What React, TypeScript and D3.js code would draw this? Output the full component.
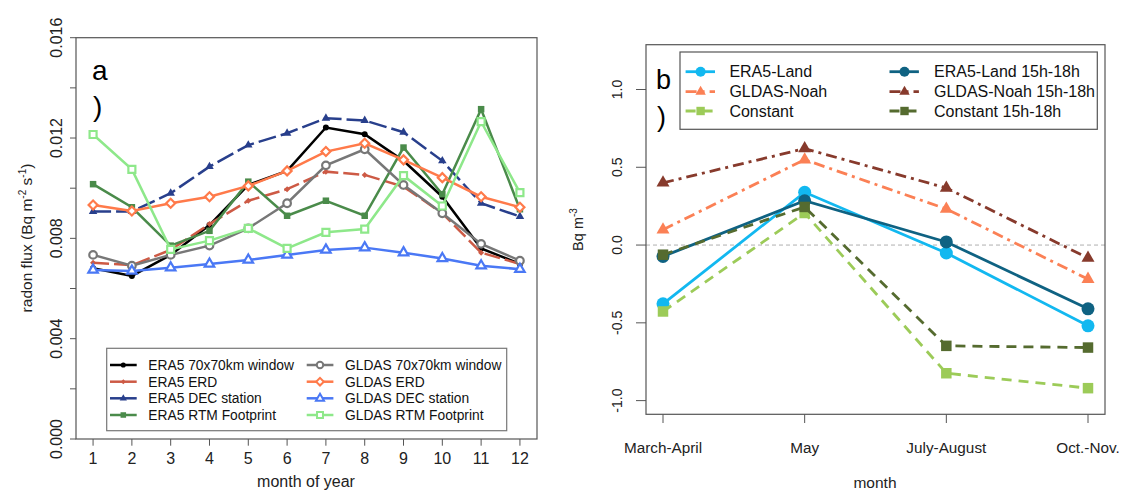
import * as d3 from 'd3';

const FONT = "'Liberation Sans', Arial, Helvetica, sans-serif";

// ---- panel a : monthly radon flux ----
const months = [1, 2, 3, 4, 5, 6, 7, 8, 9, 10, 11, 12];
const era5Window = [0.00681, 0.0065, 0.00734, 0.00853, 0.01013, 0.01069, 0.01242, 0.01215, 0.01109, 0.00966, 0.0076, 0.00698];
const era5Erd = [0.00703, 0.00693, 0.00754, 0.00857, 0.0095, 0.00996, 0.01066, 0.01053, 0.01006, 0.009, 0.00743, 0.00698];
const era5Dec = [0.00907, 0.00907, 0.0098, 0.01086, 0.01172, 0.01219, 0.01279, 0.0127, 0.01223, 0.01109, 0.0094, 0.00887];
const era5Rtm = [0.01016, 0.00924, 0.00771, 0.0083, 0.01026, 0.0089, 0.0095, 0.0089, 0.01162, 0.00976, 0.01315, 0.00916];
const gldasWindow = [0.00734, 0.00691, 0.00734, 0.00771, 0.0084, 0.0094, 0.01091, 0.01155, 0.01013, 0.009, 0.00778, 0.00711];
const gldasErd = [0.00933, 0.00909, 0.0094, 0.00966, 0.01009, 0.01069, 0.01146, 0.01179, 0.01113, 0.01042, 0.00966, 0.00924];
const gldasDec = [0.00674, 0.0067, 0.00683, 0.00698, 0.00714, 0.00734, 0.00754, 0.00763, 0.00743, 0.0072, 0.00691, 0.00677];
const gldasRtm = [0.01214, 0.01075, 0.00756, 0.00791, 0.0084, 0.0076, 0.00824, 0.00837, 0.0105, 0.00929, 0.01265, 0.00982];
const fluxTicks = [0, 0.002, 0.004, 0.006, 0.008, 0.01, 0.012, 0.014, 0.016];
const fluxLabels = ['0.000', '0.004', '0.008', '0.012', '0.016'];

// ---- panel b : concentration differences ----
const periods = ['March-April', 'May', 'July-August', 'Oct.-Nov.'];
const era5Land = [-0.378, 0.339, -0.051, -0.519];
const era5Land1518 = [-0.073, 0.285, 0.02, -0.41];
const gldasNoah = [0.099, 0.549, 0.232, -0.219];
const gldasNoah1518 = [0.4, 0.62, 0.367, -0.083];
const constant = [-0.427, 0.206, -0.824, -0.92];
const constant1518 = [-0.062, 0.245, -0.648, -0.659];
const diffTicks = [-1, -0.5, 0, 0.5, 1];

function Marker({ shape, x, y, s, color, open, sw }: any) {
  let type: any = d3.symbolCircle;
  let size = Math.PI * s * s;
  let rot = 0;
  if (shape === 'triangle') { type = d3.symbolTriangle; size = (Math.sqrt(3) / 4) * s * s; }
  if (shape === 'square') { type = d3.symbolSquare; size = s * s; }
  if (shape === 'diamond') { type = d3.symbolSquare; size = (s * s) / 2; rot = 45; }
  const d = d3.symbol().type(type).size(size)() as string;
  return (
    <path
      d={d}
      transform={`translate(${x},${y}) rotate(${rot})`}
      fill={open ? '#fff' : color}
      stroke={open ? color : 'none'}
      strokeWidth={open ? sw : 0}
    />
  );
}

const seriesA = [
  { name: 'ERA5 70x70km window', values: era5Window, color: '#000000', dash: '', shape: 'circle', s: 3, open: false },
  { name: 'ERA5 ERD', values: era5Erd, color: '#cd5a45', dash: '16,5', shape: 'diamond', s: 6, open: false },
  { name: 'ERA5 DEC station', values: era5Dec, color: '#283f8c', dash: '18,5', shape: 'triangle', s: 8.5, open: false },
  { name: 'ERA5 RTM Footprint', values: era5Rtm, color: '#4a8b4a', dash: '', shape: 'square', s: 6.5, open: false },
  { name: 'GLDAS 70x70km window', values: gldasWindow, color: '#777777', dash: '', shape: 'circle', s: 3.8, open: true },
  { name: 'GLDAS ERD', values: gldasErd, color: '#ff7a4a', dash: '', shape: 'diamond', s: 9, open: true },
  { name: 'GLDAS DEC station', values: gldasDec, color: '#4a78f5', dash: '', shape: 'triangle', s: 9.5, open: true },
  { name: 'GLDAS RTM Footprint', values: gldasRtm, color: '#8ee88a', dash: '', shape: 'square', s: 7, open: true },
];

const seriesB = [
  { name: 'ERA5-Land', values: era5Land, color: '#12b8f0', dash: '', shape: 'circle', s: 6.5 },
  { name: 'GLDAS-Noah', values: gldasNoah, color: '#fb8055', dash: '11,5,3,5', shape: 'triangle', s: 13 },
  { name: 'Constant', values: constant, color: '#9ccb58', dash: '10,7', shape: 'square', s: 10.5 },
  { name: 'ERA5-Land 15h-18h', values: era5Land1518, color: '#0f6282', dash: '', shape: 'circle', s: 6.5 },
  { name: 'GLDAS-Noah 15h-18h', values: gldasNoah1518, color: '#873a2c', dash: '11,5,3,5', shape: 'triangle', s: 13 },
  { name: 'Constant 15h-18h', values: constant1518, color: '#556b2f', dash: '10,7', shape: 'square', s: 10.5 },
];

function PanelA() {
  const x = d3.scaleLinear().domain([1 - 0.44, 12 + 0.44]).range([76, 537]);
  const y = d3.scaleLinear().domain([0, 0.016]).range([439, 37.7]);
  const line = d3.line<number>().x((d, i) => x(months[i])).y(d => y(d));
  const legRows = [365, 381.7, 398.3, 415];

  return (
    <g fontFamily={FONT}>
      {/* y axis */}
      {fluxTicks.map(t => (
        <line key={t} x1={70} x2={76} y1={y(t)} y2={y(t)} stroke="#555" />
      ))}
      {fluxLabels.map(l => (
        <text key={l} transform={`translate(62,${y(+l)}) rotate(-90)`} textAnchor="middle" fontSize={16} fill="#222">{l}</text>
      ))}
      <text transform="translate(32,238) rotate(-90)" textAnchor="middle" fontSize={15.5} fill="#222">
        radon flux (Bq m<tspan dy={-6} fontSize={10}>-2</tspan><tspan dy={6}> s</tspan><tspan dy={-6} fontSize={10}>-1</tspan><tspan dy={6}>)</tspan>
      </text>
      {/* x axis */}
      {months.map(m => (
        <g key={m}>
          <line x1={x(m)} x2={x(m)} y1={439} y2={445.7} stroke="#555" />
          <text x={x(m)} y={464} textAnchor="middle" fontSize={16} fill="#222">{m}</text>
        </g>
      ))}
      <text x={306} y={487} textAnchor="middle" fontSize={16} fill="#222">month of year</text>
      <rect x={76} y={37.7} width={461} height={401.3} fill="none" stroke="#555" strokeWidth={1.2} />
      <text x={92} y={80} fontSize={28} fill="#000">a</text>
      <text x={93} y={116} fontSize={28} fill="#000">)</text>
      {/* series */}
      {seriesA.map(s => (
        <g key={s.name}>
          <path d={line(s.values) as string} fill="none" stroke={s.color} strokeWidth={2.5} strokeDasharray={s.dash || undefined} />
          {s.values.map((v, i) => (
            <Marker key={i} shape={s.shape} x={x(months[i])} y={y(v)} s={s.s} color={s.color} open={s.open} sw={2.2} />
          ))}
        </g>
      ))}
      {/* legend */}
      <rect x={106.7} y={348.3} width={400} height={82.4} fill="#fff" stroke="#777" strokeWidth={1.2} />
      {seriesA.map((s, i) => {
        const col = Math.floor(i / 4);
        const ry = legRows[i % 4];
        const lx = col === 0 ? 110 : 306.7;
        const tx = col === 0 ? 148.3 : 345;
        return (
          <g key={s.name}>
            <line x1={lx} x2={lx + 26.7} y1={ry} y2={ry} stroke={s.color} strokeWidth={2.5} />
            <Marker shape={s.shape} x={lx + 13.3} y={ry} s={s.s * 0.85} color={s.color} open={s.open} sw={2} />
            <text x={tx} y={ry + 4.8} fontSize={13.8} fill="#111">{s.name}</text>
          </g>
        );
      })}
    </g>
  );
}

function PanelB() {
  const x = d3.scaleLinear().domain([0.88, 4.12]).range([646, 1105]);
  const y = d3.scaleLinear().domain([-1.088, 1.288]).range([414.3, 44.7]);
  const line = d3.line<number>().x((d, i) => x(i + 1)).y(d => y(d));
  const legRows = [71.7, 91.7, 111];

  return (
    <g fontFamily={FONT}>
      {diffTicks.map(t => (
        <g key={t}>
          <line x1={636} x2={646} y1={y(t)} y2={y(t)} stroke="#555" />
          <text transform={`translate(622,${y(t)}) rotate(-90)`} textAnchor="middle" fontSize={14} fill="#222">{d3.format('.1f')(t).replace('−', '-')}</text>
        </g>
      ))}
      <text transform="translate(583,229.5) rotate(-90)" textAnchor="middle" fontSize={14.5} fill="#222">
        Bq m<tspan dy={-6} fontSize={10}>-3</tspan>
      </text>
      {periods.map((p, i) => (
        <g key={p}>
          <line x1={x(i + 1)} x2={x(i + 1)} y1={414.3} y2={423} stroke="#555" />
          <text x={x(i + 1)} y={452.5} textAnchor="middle" fontSize={15.3} fill="#222">{p}</text>
        </g>
      ))}
      <text x={875} y={488} textAnchor="middle" fontSize={15.5} fill="#222">month</text>
      <line x1={646} x2={1105} y1={y(0)} y2={y(0)} stroke="#b0b0b0" strokeWidth={1} strokeDasharray="4,3" />
      <rect x={646} y={44.7} width={459} height={369.6} fill="none" stroke="#555" strokeWidth={1.2} />
      <text x={656} y={89.3} fontSize={27} fill="#000">b</text>
      <text x={657} y={126} fontSize={27} fill="#000">)</text>
      {seriesB.map(s => (
        <g key={s.name}>
          <path d={line(s.values) as string} fill="none" stroke={s.color} strokeWidth={2.8} strokeDasharray={s.dash || undefined} />
          {s.values.map((v, i) => (
            <Marker key={i} shape={s.shape} x={x(i + 1)} y={y(v)} s={s.s} color={s.color} open={false} sw={0} />
          ))}
        </g>
      ))}
      <rect x={680} y={52} width={417.3} height={77.3} fill="#fff" stroke="#555" strokeWidth={1.2} />
      {seriesB.map((s, i) => {
        const col = Math.floor(i / 3);
        const ry = legRows[i % 3];
        const lx = col === 0 ? 685.6 : 889.5;
        const tx = col === 0 ? 729.4 : 934;
        return (
          <g key={s.name}>
            <line x1={lx} x2={lx + 29.4} y1={ry} y2={ry} stroke={s.color} strokeWidth={2.8} strokeDasharray={s.dash || undefined} />
            <Marker shape={s.shape} x={lx + 15} y={ry} s={s.shape === 'circle' ? 5 : s.s * 0.8} color={s.color} open={false} sw={0} />
            <text x={tx} y={ry + 5.6} fontSize={16} fill="#111">{s.name}</text>
          </g>
        );
      })}
    </g>
  );
}

export default function App() {
  return (
    <svg width={1121} height={492} style={{ position: 'absolute', left: 0, top: 0, background: '#fff' }}>
      <rect width={1121} height={492} fill="#fff" />
      <PanelA />
      <PanelB />
    </svg>
  );
}
